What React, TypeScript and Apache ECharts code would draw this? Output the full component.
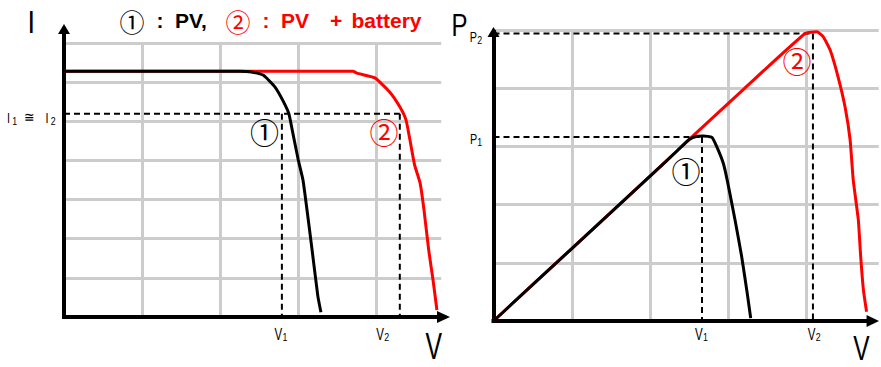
import React, { useEffect, useRef } from "react";
import * as echarts from "echarts";

// ---------- data (grid units: 1 unit = one grid cell) ----------
// Left panel: I-V characteristics
const ivPV: [number, number][] = [
  [0, 6.28], [2.25, 6.28], [2.4, 6.26], [2.55, 6.18], [2.7, 5.88], [2.8, 5.54],
  [2.88, 5.19], [2.93, 4.7], [3.0, 4.01], [3.06, 3.5], [3.11, 2.76], [3.175, 1.74],
  [3.25, 0.54], [3.29, 0.12],
];
const ivPVBattery: [number, number][] = [
  [0, 6.28], [3.7, 6.28], [3.75, 6.23], [3.98, 6.11], [4.17, 5.75], [4.3, 5.37],
  [4.38, 5.03], [4.43, 4.52], [4.49, 3.88], [4.56, 3.42], [4.61, 2.73], [4.67, 1.71],
  [4.725, 0.95], [4.775, 0.18],
];
// Right panel: P-V characteristics
const pvPV: [number, number][] = [
  [0, 0], [1.0, 1.245], [2.0, 2.49], [2.35, 2.93], [2.5, 3.12], [2.6, 3.175],
  [2.68, 3.18], [2.79, 3.155], [2.85, 3.0], [2.935, 2.71], [2.985, 2.42], [3.085, 1.735],
  [3.17, 1.105], [3.235, 0.53], [3.285, 0.05],
];
const pvPVBattery: [number, number][] = [
  [0, 0], [1.0, 1.245], [2.0, 2.49], [2.35, 2.93], [2.5, 3.12],
  [3.2, 3.99], [3.98, 4.94], [4.13, 4.97], [4.21, 4.885], [4.3, 4.655], [4.4, 4.2],
  [4.49, 3.68], [4.555, 3.11], [4.595, 2.42], [4.66, 1.735], [4.69, 1.105], [4.725, 0.53],
  [4.765, 0.16],
];
// Operating points
const leftOp = { I12: 5.19, V1: 2.79, V2: 4.3 };
const rightOp = { P1: 3.16, P2: 4.94, V1: 2.663, V2: 4.08 };
// Axis extents (grid units)
const leftExtent = { xMax: 4.83, yMax: 7 };
const rightExtent = { xMax: 4.92, yMax: 5 };

const FONT = "'Liberation Sans', Arial, Helvetica, sans-serif";
const CJK = "'Noto Sans CJK KR', 'Noto Sans CJK SC', sans-serif";
const RED = "#ff0000";
const GRIDC = "#cccccc";

function label(x: number, y: number, text: string, size: number, opts: any = {}) {
  const align = opts.align || "center";
  return {
    type: "text",
    x,
    y,
    scaleX: opts.scaleX ?? 1,
    z: 100,
    silent: true,
    style: {
      text,
      x: 0,
      y: 0,
      fontSize: size,
      fontFamily: opts.font || FONT,
      fontWeight: opts.weight || "normal",
      fill: opts.color || "#000",
      align,
      verticalAlign: "middle",
      textAlign: align,
      textVerticalAlign: "middle",
    },
  };
}

function sub(x: number, y: number, main: string, s: string, mainSize = 16, subSize = 11) {
  return [
    label(x, y, main, mainSize, { scaleX: 0.72 }),
    label(x + mainSize * 0.42, y + 3.5, s, subSize, { scaleX: 0.8 }),
  ];
}

function lineSeries(data: any[], axis: number, color: string, width: number, z: number, dashed = false) {
  return {
    type: "line",
    xAxisIndex: axis,
    yAxisIndex: axis,
    data,
    symbol: "none",
    z,
    silent: true,
    smooth: dashed ? false : 0.15,
    lineStyle: { color, width, type: dashed ? [6, 4] : "solid" },
    itemStyle: { color },
    emphasis: { disabled: true },
  };
}

function gridAxis(grid: number, max: number, isX: boolean) {
  return {
    gridIndex: grid,
    type: "value",
    min: 0,
    max,
    interval: 1,
    axisLine: { show: false },
    axisTick: { show: false },
    axisLabel: { show: false },
    splitLine: {
      show: true,
      showMinLine: false,
      showMaxLine: !isX,
      lineStyle: { color: GRIDC, width: 3 },
    },
  };
}

function arrowAxis(grid: number, size: number[]) {
  return {
    gridIndex: grid,
    type: "value",
    min: 0,
    max: 1,
    axisLine: {
      show: true,
      onZero: false,
      symbol: ["none", "triangle"],
      symbolSize: size,
      lineStyle: { color: "#000", width: 4, cap: "square" },
    },
    axisTick: { show: false },
    axisLabel: { show: false },
    splitLine: { show: false },
  };
}

export default function App() {
  const ref = useRef<HTMLDivElement>(null);
  useEffect(() => {
    if (!ref.current) return;
    const chart = echarts.init(ref.current, undefined, { renderer: "svg" });
    const graphics: any[] = [
      // title
      label(132, 20.8, "①", 25, { font: CJK }),
      label(160, 20.8, ":", 21, { weight: "bold" }),
      label(175, 20.8, "PV,", 21, { weight: "bold", align: "left" }),
      label(238, 20.8, "②", 25, { font: CJK, color: RED }),
      label(266, 20.8, ":", 21, { weight: "bold", color: RED }),
      label(281, 20.8, "PV", 21, { weight: "bold", color: RED, align: "left" }),
      label(336, 20.8, "+", 21, { weight: "bold", color: RED }),
      label(351.5, 20.8, "battery", 21, { weight: "bold", color: RED, align: "left" }),
      // axis names
      label(31.3, 21.5, "I", 32, { scaleX: 0.85 }),
      label(433.7, 346.5, "V", 37, { scaleX: 0.67 }),
      label(459.5, 24.5, "P", 32, { scaleX: 0.75 }),
      label(861.4, 347.5, "V", 35, { scaleX: 0.7 }),
      // left labels
      ...sub(278.3, 333.8, "V", "1"),
      ...sub(380, 333.8, "V", "2"),
      ...sub(8.5, 118, "I", "1", 15),
      label(29, 117, "≅", 14, { scaleX: 0.9 }),
      ...sub(47, 118, "I", "2", 15),
      label(264.5, 131, "①", 29, { font: CJK }),
      label(384, 131, "②", 29, { font: CJK, color: RED }),
      // right labels
      ...sub(698.8, 334, "V", "1"),
      ...sub(811.5, 334, "V", "2"),
      ...sub(473.5, 138.5, "P", "1", 15),
      ...sub(473.3, 37, "P", "2", 15),
      label(686, 170, "①", 29, { font: CJK }),
      label(797, 60, "②", 29, { font: CJK, color: RED }),
    ];

    chart.setOption({
      animation: false,
      backgroundColor: "#ffffff",
      tooltip: { show: false },
      grid: [
        { left: 64, top: 43, width: 377.2, height: 274, outerBoundsMode: "none" },
        { left: 64, top: 29, width: 379.5, height: 288, outerBoundsMode: "none" },
        { left: 493.5, top: 30, width: 385.2, height: 291, outerBoundsMode: "none" },
        { left: 493.5, top: 32, width: 379.3, height: 289, outerBoundsMode: "none" },
      ],
      xAxis: [
        gridAxis(0, leftExtent.xMax, true),
        arrowAxis(1, [12, 13]),
        gridAxis(2, rightExtent.xMax, true),
        arrowAxis(3, [12, 12.5]),
      ],
      yAxis: [
        gridAxis(0, leftExtent.yMax, false),
        arrowAxis(1, [12, 10]),
        gridAxis(2, rightExtent.yMax, false),
        arrowAxis(3, [12, 10]),
      ],
      series: [
        // left dashed guides
        lineSeries([[0, leftOp.I12], [leftOp.V2, leftOp.I12]], 0, "#000", 2, 2, true),
        lineSeries([[leftOp.V1, leftOp.I12], [leftOp.V1, 0]], 0, "#000", 2, 2, true),
        lineSeries([[leftOp.V2, leftOp.I12], [leftOp.V2, 0]], 0, "#000", 2, 2, true),
        // left curves
        lineSeries(ivPVBattery, 0, RED, 3, 3),
        lineSeries(ivPV, 0, "#000", 3, 4),
        // right dashed guides
        lineSeries([[0, rightOp.P2], [rightOp.V2, rightOp.P2]], 2, "#000", 2, 2, true),
        lineSeries([[rightOp.V2, rightOp.P2], [rightOp.V2, 0]], 2, "#000", 2, 2, true),
        lineSeries([[0, rightOp.P1], [rightOp.V1, rightOp.P1]], 2, "#000", 2, 2, true),
        lineSeries([[rightOp.V1, rightOp.P1], [rightOp.V1, 0]], 2, "#000", 2, 2, true),
        // right curves
        lineSeries(pvPVBattery, 2, RED, 3, 3),
        lineSeries(pvPV, 2, "#000", 3, 4),
      ],
      graphic: { elements: graphics },
    });
    return () => chart.dispose();
  }, []);
  return (
    <div style={{ position: "fixed", left: 0, top: 0, width: 881, height: 367, background: "#fff" }}>
      <div ref={ref} style={{ width: 881, height: 367 }} />
    </div>
  );
}
